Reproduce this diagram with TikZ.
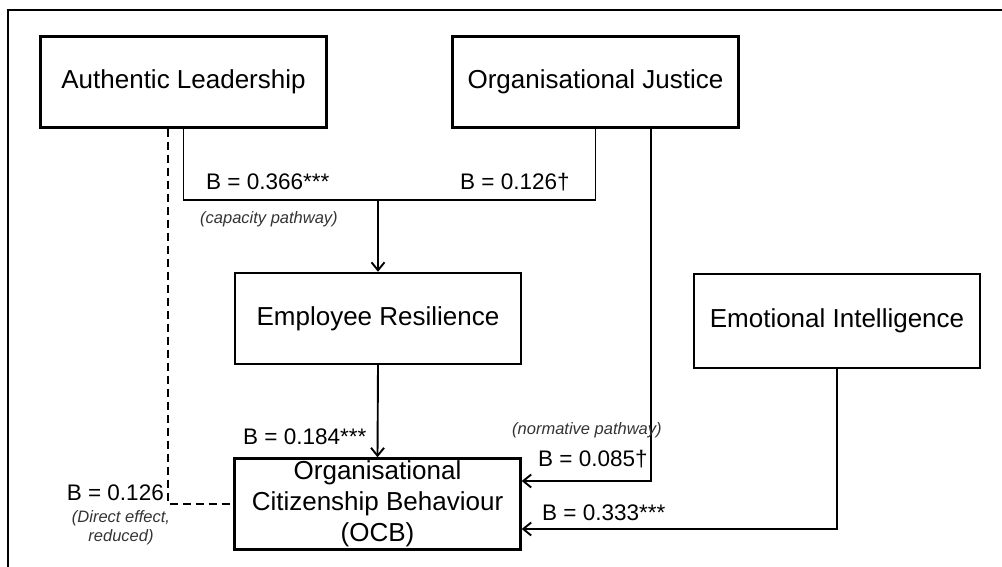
\documentclass[tikz,border=0pt]{standalone}
\usepackage{fontspec}
\setmainfont{Liberation Sans}
\usepackage{xcolor}
\usetikzlibrary{arrows.meta}
\definecolor{notegray}{RGB}{51, 51, 51}

\tikzset{
  varbox/.style={draw, line width=2.4pt, inner sep=0pt, minimum width=286pt, minimum height=91pt, align=center, font=\fontsize{26}{31}\selectfont},
  path/.style={line width=1.9pt},
  coef/.style={inner sep=0pt, font=\fontsize{22.5}{26}\selectfont},
  note/.style={inner sep=0pt, color=notegray, font=\fontsize{16.5}{19}\selectfont\itshape},
}

\begin{document}
\begin{tikzpicture}[x=1pt, y=-1pt, >={Straight Barb[length=8pt, width=13pt, line width=1.9pt]}]
\useasboundingbox (0,0) rectangle (1002,567);

%frame
\draw[line width=2.8pt] (8,567) -- (8,10) -- (1002,10);

%variables
\node[varbox] (al) at (183.5,82) {Authentic Leadership};
\node[varbox] (oj) at (595.5,82) {Organisational Justice};
\node[varbox] (er) at (378,318.5) {Employee Resilience};
\node[varbox, minimum height=94pt] (ei) at (837,321) {Emotional Intelligence};
\node[varbox] (ocb) at (377.5,504) {Organisational\\Citizenship Behaviour\\(OCB)};

\coordinate (join) at (378,200);

%capacity pathway
\draw[path] (al.south) |- (join) -| (oj.south);
\draw[path, line width=2.3pt, ->] (join) -- (er.north);
\draw[path, ->] (er.south) -- (ocb.north);

%normative pathway and EI
\draw[path, ->] ([xshift=55.5pt]oj.south) |- ([yshift=23pt]ocb.east);
\draw[path, ->] (ei.south) |- ([yshift=-25pt]ocb.east);

%direct effect
\draw[path, dash pattern=on 8pt off 5pt] ([xshift=-15.5pt]al.south) |- (ocb.west);

\node[coef, anchor=west] (b1) at (206,182) {B = 0.366***};
\node[note, anchor=west] (n1) at (200,219) {(capacity pathway)};
\node[coef, anchor=west] (b2) at (460,182) {B = 0.126†};
\node[coef, anchor=west] (b3) at (243,437) {B = 0.184***};
\node[coef, anchor=east] (b4) at (164,493) {B = 0.126};
\node[note, align=center] (n2) at (121,528) {(Direct effect,\\reduced)};
\node[note, anchor=west] (n3) at (512,430) {(normative pathway)};
\node[coef, anchor=west] (b5) at (538,459) {B = 0.085†};
\node[coef, anchor=west] (b6) at (542,513) {B = 0.333***};
\end{tikzpicture}
\end{document}
